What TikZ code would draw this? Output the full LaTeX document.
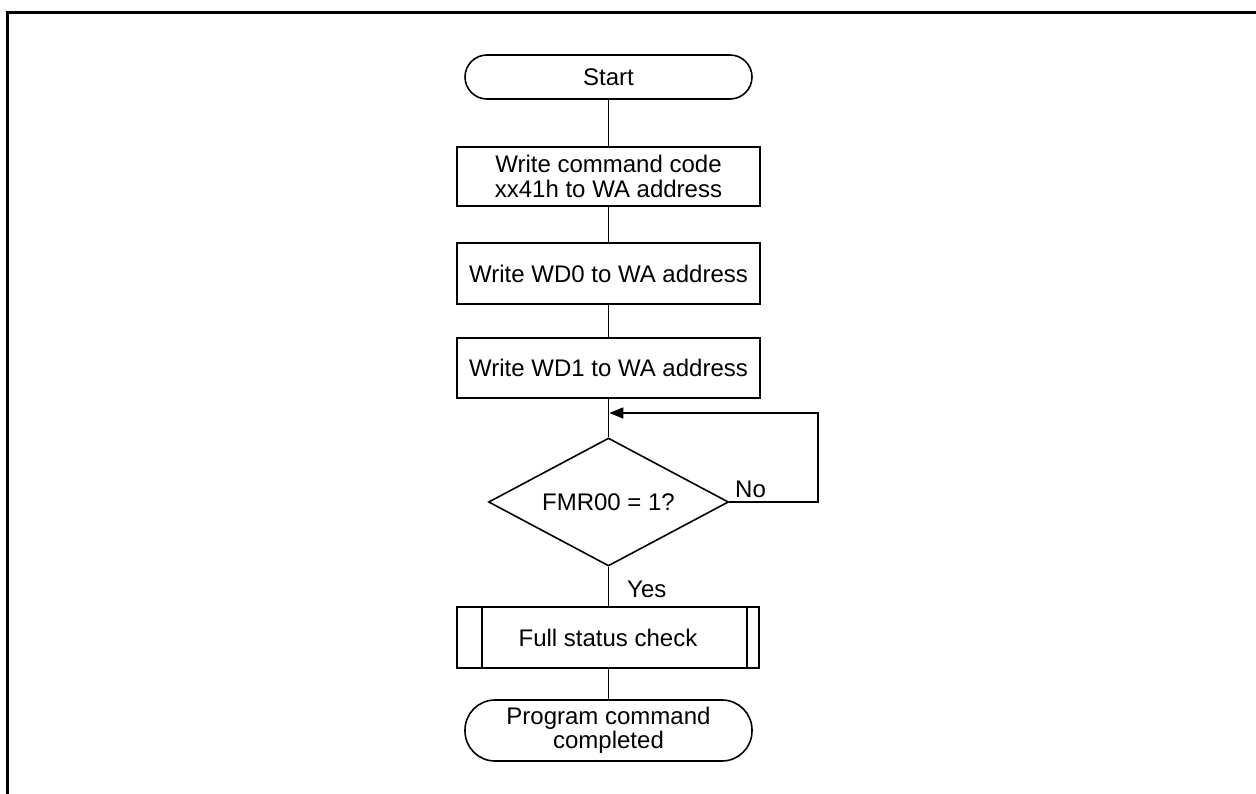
\documentclass[tikz,border=0pt]{standalone}
\usepackage{fontspec}
\setmainfont{Liberation Sans}
\usetikzlibrary{shapes.geometric,arrows.meta}
\begin{document}
\begin{tikzpicture}[x=1pt,y=-1pt,
  every node/.style={font=\fontsize{24}{24.5}\selectfont},
  proc/.style={draw,line width=1.6pt,inner sep=0pt,align=center,minimum width=303pt},
  term/.style={draw,line width=1.6pt,inner sep=0pt,align=center,minimum width=287pt},
  dec/.style={draw,diamond,aspect=1.875,line width=1.6pt,inner sep=0pt,minimum width=240pt,minimum height=128pt},
  conn/.style={line width=1.6pt},
  lbl/.style={inner sep=0pt,anchor=base west}]
\useasboundingbox (0,0) rectangle (1256,794);
% frame
\draw[line width=3pt] (7,794) -- (7,12.5) -- (1256,12.5);
% nodes
\node[term,minimum height=44pt,rounded corners=22pt] (start) at (608.5,77) {Start};
\node[proc,minimum height=59pt] (b1) at (608.5,176.5) {Write command code\\xx41h to WA address};
\node[proc,minimum height=61pt] (b2) at (608.5,273.5) {Write WD0 to WA address};
\node[proc,minimum height=60pt] (b3) at (608.5,368) {Write WD1 to WA address};
\node[dec] (d) at (608.5,502) {FMR00 = 1?};
\node[proc,minimum width=302pt,minimum height=61pt] (fsc) at (608,637.5) {Full status check};
\draw[line width=1.6pt] ([xshift=25.5pt]fsc.north west) -- ([xshift=25.5pt]fsc.south west);
\draw[line width=1.6pt] ([xshift=-13pt]fsc.north east) -- ([xshift=-13pt]fsc.south east);
\node[term,minimum height=61pt,rounded corners=30pt] (end) at (608.5,730.5) {Program command\\completed};
% labels
\node[lbl] (no) at (735,497) {No};
\node[lbl] (yes) at (627,597) {Yes};
% connectors
\draw[conn] (start.south) -- (b1.north);
\draw[conn] (b1.south) -- (b2.north);
\draw[conn] (b2.south) -- (b3.north);
\draw[conn] (b3.south) -- (d.north);
\draw[conn] (d.south) -- (d.south |- fsc.north);
\draw[conn] (fsc.south -| end.north) -- (end.north);
\coordinate (lp) at (818,413);
\draw[conn,-{Triangle[length=14pt,width=11pt]},shorten >=0.8pt] (d.east) -| (lp) -- (b3.south |- lp);
\end{tikzpicture}
\end{document}
